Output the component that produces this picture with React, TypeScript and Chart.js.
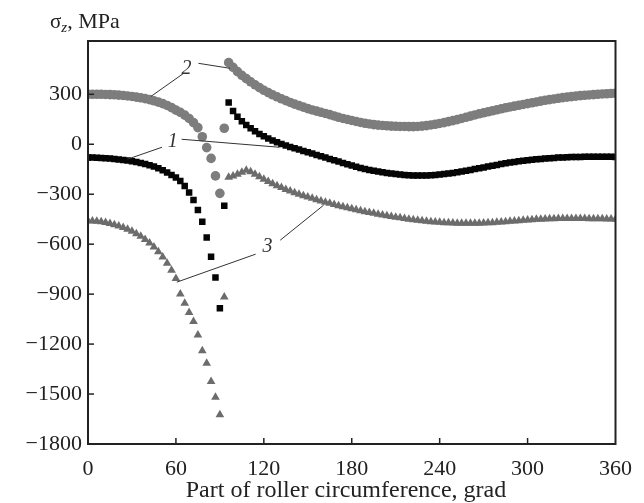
import React, { useEffect, useRef } from "react";
import { Chart, registerables } from "chart.js";

Chart.register(...registerables);

const FONT = "'Liberation Serif', 'Times New Roman', serif";

// Angle positions (grad)
const xLeft = [0, 3, 6, 9, 12, 15, 18, 21, 24, 27, 30, 33, 36, 39, 42, 45, 48, 51, 54, 57, 60, 63, 66, 69, 72, 75, 78, 81, 84, 87, 90];
const xSingular = [93];
const xRight = [96, 99, 102, 105, 108, 111, 114, 117, 120, 123, 126, 129, 132, 135, 138, 141, 144, 147, 150, 153, 156, 159, 162, 165, 168, 171, 174, 177, 180, 183, 186, 189, 192, 195, 198, 201, 204, 207, 210, 213, 216, 219, 222, 225, 228, 231, 234, 237, 240, 243, 246, 249, 252, 255, 258, 261, 264, 267, 270, 273, 276, 279, 282, 285, 288, 291, 294, 297, 300, 303, 306, 309, 312, 315, 318, 321, 324, 327, 330, 333, 336, 339, 342, 345, 348, 351, 354, 357, 360];

// Curve 1 (black squares)
const s1Left = [-80, -80, -81, -82, -84, -86, -88, -91, -94, -98, -102, -107, -113, -119, -126, -134, -144, -156, -170, -185, -200, -220, -250, -290, -335, -395, -465, -560, -675, -800, -985];
const s1Singular = [-370];
const s1Right = [250, 200, 165, 138, 115, 96, 78, 62, 48, 35, 23, 12, 2, -8, -16, -24, -32, -40, -48, -56, -64, -72, -80, -88, -96, -104, -112, -120, -128, -135, -142, -148, -154, -159, -164, -168, -172, -176, -179, -182, -184, -186, -187, -188, -188, -187, -186, -184, -182, -179, -176, -172, -168, -164, -159, -154, -149, -144, -139, -134, -129, -124, -119, -114, -110, -106, -102, -99, -96, -93, -90, -88, -86, -84, -82, -80, -79, -78, -77, -76, -76, -75, -75, -75, -75, -75, -75, -75, -76];

// Curve 2 (grey circles)
const s2Left = [300, 300, 300, 300, 299, 298, 297, 295, 293, 290, 287, 283, 279, 274, 268, 261, 253, 244, 233, 220, 205, 192, 175, 155, 130, 100, 45, -20, -85, -190, -295];
const s2Singular = [96];
const s2Right = [490, 462, 436, 414, 394, 375, 357, 340, 324, 310, 297, 285, 273, 262, 251, 241, 232, 223, 214, 206, 199, 192, 185, 178, 170, 162, 155, 149, 143, 137, 131, 126, 122, 118, 115, 113, 111, 109, 108, 107, 107, 106, 106, 107, 109, 112, 116, 120, 125, 130, 136, 142, 148, 155, 162, 169, 176, 183, 189, 195, 201, 207, 213, 219, 224, 229, 234, 239, 244, 249, 254, 259, 264, 268, 272, 276, 280, 283, 286, 289, 292, 294, 296, 298, 300, 302, 303, 305, 306];

// Curve 3 (grey triangles)
const s3Left = [-460, -461, -463, -466, -470, -476, -483, -491, -500, -511, -523, -537, -553, -572, -593, -617, -645, -677, -714, -757, -806, -900, -955, -1010, -1065, -1145, -1240, -1315, -1425, -1520, -1625];
const s3Singular = [-918];
const s3Right = [-198, -190, -180, -168, -156, -165, -180, -195, -210, -224, -237, -249, -260, -271, -281, -291, -300, -309, -317, -325, -333, -341, -348, -355, -362, -369, -375, -381, -387, -393, -399, -405, -410, -415, -420, -425, -430, -434, -438, -442, -446, -450, -453, -456, -459, -462, -465, -467, -469, -471, -472, -473, -474, -475, -475, -475, -475, -474, -473, -472, -471, -469, -467, -465, -463, -461, -459, -457, -455, -453, -451, -450, -449, -448, -447, -446, -446, -446, -446, -446, -446, -446, -447, -447, -448, -448, -449, -449, -450, -450];

const xTicks = [0, 60, 120, 180, 240, 300, 360];
const yTicks = [-1800, -1500, -1200, -900, -600, -300, 0, 300];

// Callout labels (data coordinates): label, text anchor, leader lines
const calloutLabels = ["1", "2", "3"];
const calloutAnchors = [[57.9, 12], [67.3, 456], [122.5, -618]];
const calloutLines = [
  [[[50.5, -18], [26.9, -90]], [[63.9, 30], [130.5, -18]]],
  [[[65.3, 426], [43.1, 288]], [[75.4, 486], [96.9, 456]]],
  [[[114.4, -660], [60.6, -828]], [[131.2, -576], [160.8, -366]]],
];

const xAll = [...xLeft, ...xSingular, ...xRight];
const toPoints = (ys: number[]) => xAll.map((x, i) => ({ x, y: ys[i] }));

const decorPlugin = {
  id: "decor",
  afterDatasetsDraw(chart: any) {
    const { ctx, chartArea, scales } = chart;
    const { left, right, top, bottom } = chartArea;
    const xs = scales.x;
    const ys = scales.y;
    ctx.save();
    // callouts
    ctx.strokeStyle = "#333";
    ctx.lineWidth = 1;
    calloutLabels.forEach((lab, i) => {
      calloutLines[i].forEach(([p, q]) => {
        ctx.beginPath();
        ctx.moveTo(xs.getPixelForValue(p[0]), ys.getPixelForValue(p[1]));
        ctx.lineTo(xs.getPixelForValue(q[0]), ys.getPixelForValue(q[1]));
        ctx.stroke();
      });
      ctx.font = `italic 20px ${FONT}`;
      ctx.fillStyle = "#333";
      ctx.textAlign = "center";
      ctx.textBaseline = "middle";
      ctx.fillText(lab, xs.getPixelForValue(calloutAnchors[i][0]), ys.getPixelForValue(calloutAnchors[i][1]));
    });
    // frame
    ctx.strokeStyle = "#222";
    ctx.lineWidth = 2;
    ctx.strokeRect(left, top, right - left, bottom - top);
    // inward ticks
    ctx.lineWidth = 1.5;
    xTicks.slice(1, -1).forEach((v) => {
      const px = xs.getPixelForValue(v);
      ctx.beginPath();
      ctx.moveTo(px, bottom);
      ctx.lineTo(px, bottom - 6);
      ctx.stroke();
    });
    yTicks.slice(1).forEach((v) => {
      const py = ys.getPixelForValue(v);
      ctx.beginPath();
      ctx.moveTo(left, py);
      ctx.lineTo(left + 6, py);
      ctx.stroke();
    });
    // y title: σz, MPa
    ctx.fillStyle = "#222";
    ctx.textAlign = "left";
    ctx.textBaseline = "alphabetic";
    let tx = 50;
    const by = 28;
    ctx.font = `21px ${FONT}`;
    ctx.fillText("σ", tx, by);
    tx += ctx.measureText("σ").width;
    ctx.font = `italic 15px ${FONT}`;
    ctx.fillText("z", tx, by + 4);
    tx += ctx.measureText("z").width;
    ctx.font = `22px ${FONT}`;
    ctx.fillText(", MPa", tx, by);
    // x title
    ctx.textAlign = "center";
    ctx.textBaseline = "middle";
    ctx.font = `24px ${FONT}`;
    ctx.fillText("Part of roller circumference, grad", 346, 491);
    ctx.restore();
  },
};

export default function App() {
  const ref = useRef<HTMLCanvasElement | null>(null);
  useEffect(() => {
    if (!ref.current) return;
    const chart = new Chart(ref.current, {
      type: "scatter",
      data: {
        datasets: [
          {
            label: "2",
            data: toPoints([...s2Left, ...s2Singular, ...s2Right]),
            pointStyle: "circle",
            pointRadius: 4.8,
            backgroundColor: "#7d7d7d",
            borderWidth: 0,
          },
          {
            label: "3",
            data: toPoints([...s3Left, ...s3Singular, ...s3Right]),
            pointStyle: "triangle",
            pointRadius: 5,
            backgroundColor: "#6c6c6c",
            borderWidth: 0,
          },
          {
            label: "1",
            data: toPoints([...s1Left, ...s1Singular, ...s1Right]),
            pointStyle: "rect",
            pointRadius: 4.6,
            backgroundColor: "#050505",
            borderWidth: 0,
          },
        ],
      },
      options: {
        animation: false,
        responsive: false,
        events: [],
        layout: { padding: { top: 41, right: 21, left: 0, bottom: 0 } },
        plugins: { legend: { display: false }, tooltip: { enabled: false }, title: { display: false } },
        scales: {
          x: {
            type: "linear",
            min: 0,
            max: 360,
            afterBuildTicks: (s: any) => {
              s.ticks = xTicks.map((v) => ({ value: v }));
            },
            afterFit: (s: any) => {
              s.height = 59;
            },
            grid: { display: false, drawTicks: false },
            border: { display: false },
            ticks: { color: "#222", font: { family: FONT, size: 22 }, padding: 12, maxRotation: 0 },
          },
          y: {
            type: "linear",
            min: -1800,
            max: 620,
            afterBuildTicks: (s: any) => {
              s.ticks = yTicks.map((v) => ({ value: v }));
            },
            afterFit: (s: any) => {
              s.width = 88;
            },
            grid: { display: false, drawTicks: false },
            border: { display: false },
            ticks: {
              color: "#222",
              font: { family: FONT, size: 22 },
              padding: 6,
              callback: (v: any) => (Number(v) < 0 ? "\u2212" + Math.abs(Number(v)) : String(v)),
            },
          },
        },
      },
      plugins: [decorPlugin],
    });
    return () => chart.destroy();
  }, []);
  return (
    <div style={{ position: "fixed", left: 0, top: 0, width: 644, height: 503, background: "#fff" }}>
      <canvas ref={ref} width={644} height={503} style={{ display: "block" }} />
    </div>
  );
}
